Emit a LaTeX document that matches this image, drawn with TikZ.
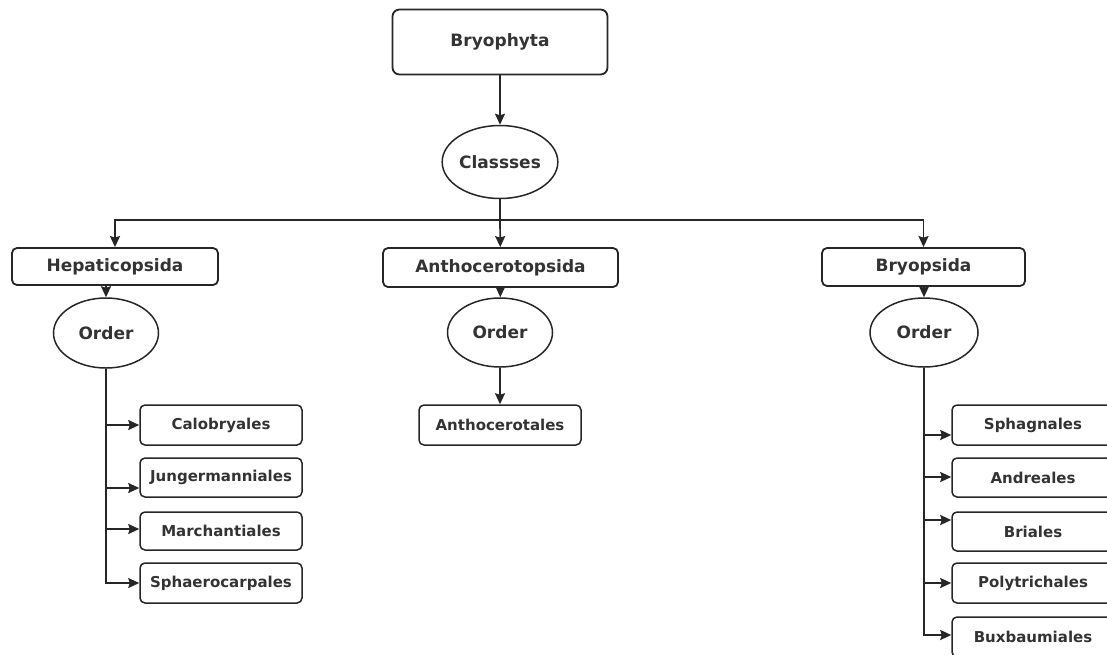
\documentclass[tikz,border=0pt]{standalone}
\usepackage{fontspec}
\setmainfont{DejaVu Sans}
\usetikzlibrary{shapes}
\usetikzlibrary{arrows.meta}
\usetikzlibrary{positioning}

\begin{document}
\begin{tikzpicture}[x=1pt,y=-1pt]
\tikzstyle{rang}=[draw=black!85,line width=1.8pt,rounded corners=7pt,inner sep=0pt,
        text=black!80,font=\fontsize{17}{20}\selectfont\bfseries]
\tikzstyle{groupe}=[rang,rounded corners=5pt]
\tikzstyle{feuille}=[draw=black!85,line width=1.5pt,rounded corners=5pt,inner sep=0pt,
        minimum width=162pt,minimum height=39pt,
        text=black!80,font=\fontsize{15}{18}\selectfont\bfseries]
\tikzstyle{bulle}=[ellipse,draw=black!85,line width=1.5pt,inner sep=0pt,
        text=black!80,font=\fontsize{17}{20}\selectfont\bfseries]
%style des fleches
\tikzstyle{suite}=[-{Stealth[length=11pt,width=10pt,inset=1.5pt]},draw=black!85,line width=1.7pt]
\tikzstyle{trait}=[draw=black!85,line width=1.7pt]
\useasboundingbox (0,0) rectangle (1107,654);
%placement des noeuds
\node[rang,minimum width=215pt,minimum height=65pt] (phyl) at (500,42) {Bryophyta};
\node[bulle,minimum width=106pt,minimum height=73pt] (cls) at (500,162) {Classses};
\coordinate (barre) at (500,220);
\node[groupe,minimum width=206pt,minimum height=37pt] (hep) at (115,266.5) {Hepaticopsida};
\node[groupe,minimum width=235pt,minimum height=39pt] (anth) at (500.5,267.5) {Anthocerotopsida};
\node[groupe,minimum width=203pt,minimum height=38pt] (bry) at (923.5,267) {Bryopsida};
\node[bulle,minimum width=105pt,minimum height=70pt] (hepord) at (106,333) {Order};
\node[bulle,minimum width=105pt,minimum height=69pt] (anthord) at (500,332.5) {Order};
\node[bulle,minimum width=108pt,minimum height=69pt] (bryord) at (924,332.5) {Order};
\node[feuille,minimum height=40pt] (anthoc) at (500,425) {Anthocerotales};
\node[feuille,minimum height=40pt] (calo) at (221,425) {Calobryales};
\node[feuille] (jung) at (221,477.5) {Jungermanniales};
\node[feuille,minimum height=38pt] (march) at (221,531) {Marchantiales};
\node[feuille,minimum height=40pt] (sphae) at (221,583) {Sphaerocarpales};
\node[feuille,minimum height=40pt] (sphag) at (1033,425) {Sphagnales};
\node[feuille] (andr) at (1033,477.5) {Andreales};
\node[feuille] (bria) at (1033,531.5) {Briales};
\node[feuille,minimum height=40pt] (poly) at (1033,583) {Polytrichales};
\node[feuille,minimum height=40pt] (buxb) at (1033,637) {Buxbaumiales};
%placement des fleches
\draw[suite] (phyl) -- (cls);
\draw[trait] (cls) -- (barre);
\draw[suite] (barre) -| (hep);
\draw[suite] (barre) -- (anth);
\draw[suite] (barre) -| (bry);
\draw[suite] (hepord.north |- hep.south) -- (hepord);
\draw[suite] (anth) -- (anthord);
\draw[suite] (bryord.north |- bry.south) -- (bryord);
\draw[suite] (anthord) -- (anthoc);
% ordres des Hepaticopsida
\draw[suite] (hepord.south) |- (sphae.west);
\draw[suite] (calo.west -| hepord.south) -- (calo.west);
\draw[suite] ([yshift=-10.5pt]jung.west -| hepord.south) -- ([yshift=-10.5pt]jung.west);
\draw[suite] ([yshift=2pt]march.west -| hepord.south) -- ([yshift=2pt]march.west);
% ordres des Bryopsida
\draw[suite] (bryord.south) |- ([yshift=2pt]buxb.west);
\draw[suite] ([yshift=-10pt]sphag.west -| bryord.south) -- ([yshift=-10pt]sphag.west);
\draw[suite] ([yshift=0.5pt]andr.west -| bryord.south) -- ([yshift=0.5pt]andr.west);
\draw[suite] ([yshift=11.5pt]bria.west -| bryord.south) -- ([yshift=11.5pt]bria.west);
\draw[suite] (poly.west -| bryord.south) -- (poly.west);
\end{tikzpicture}
\end{document}
